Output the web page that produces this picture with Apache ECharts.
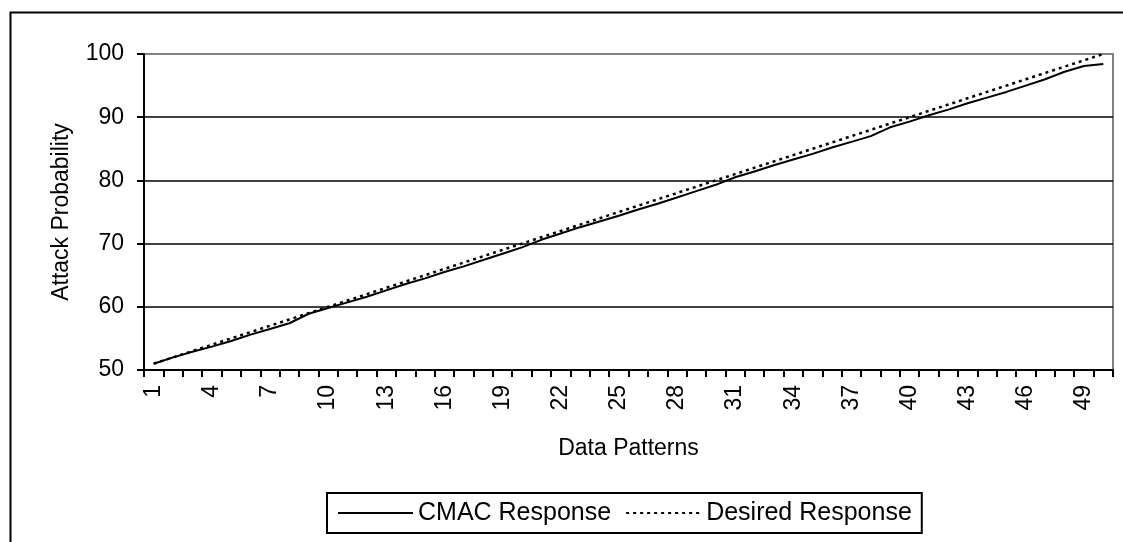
<!DOCTYPE html>
<html>
<head>
<meta charset="utf-8">
<script src="https://cdn.jsdelivr.net/npm/echarts@6/dist/echarts.min.js"></script>
<style>
html,body{margin:0;padding:0;background:#fff;}
#chart{width:1123px;height:542px;}
</style>
</head>
<body>
<div id="chart"></div>
<script>
const categories = ['1','2','3','4','5','6','7','8','9','10','11','12','13','14','15','16','17','18','19','20','21','22','23','24','25','26','27','28','29','30','31','32','33','34','35','36','37','38','39','40','41','42','43','44','45','46','47','48','49','50'];
const cmacResponse = [51.0,52.0,52.9,53.7,54.6,55.6,56.5,57.4,58.9,59.8,60.7,61.6,62.6,63.6,64.5,65.5,66.4,67.4,68.4,69.4,70.6,71.6,72.6,73.5,74.4,75.4,76.3,77.3,78.3,79.3,80.5,81.4,82.4,83.3,84.2,85.2,86.1,87.0,88.4,89.3,90.3,91.2,92.2,93.1,94.0,95.0,96.0,97.2,98.1,98.4];
const desiredResponse = [51,52,53,54,55,56,57,58,59,60,61,62,63,64,65,66,67,68,69,70,71,72,73,74,75,76,77,78,79,80,81,82,83,84,85,86,87,88,89,90,91,92,93,94,95,96,97,98,99,100];
const seriesNames = ['CMAC Response','Desired Response'];
const yTicks = {min:50, max:100, interval:10};

const FONT = 'Liberation Sans, Arial, sans-serif';
const FS = 23;
const chart = echarts.init(document.getElementById('chart'), null, {renderer:'canvas'});
chart.setOption({
  animation:false,
  backgroundColor:'#fff',
  graphic:[{
    type:'rect', left:8, top:10, shape:{x:0,y:0,width:1130,height:550},
    style:{fill:'none', stroke:'#000', lineWidth:2}, silent:true
  }],
  grid:{left:144, right:10, top:54, bottom:172, show:true, borderColor:'#808080', borderWidth:2, backgroundColor:'transparent'},
  legend:{
    left:327, top:493,
    data:seriesNames,
    itemWidth:75, itemHeight:10, itemGap:14,
    itemStyle:{opacity:0},
    borderColor:'#000', borderWidth:2, padding:[6,10,6,10],
    textStyle:{fontFamily:FONT, fontSize:25, lineHeight:28, color:'#000'}
  },
  xAxis:{
    type:'category', data:categories, boundaryGap:true,
    name:'Data Patterns', nameLocation:'middle', nameGap:67,
    nameTextStyle:{fontFamily:FONT, fontSize:FS, color:'#000', verticalAlign:'top'},
    axisLine:{lineStyle:{color:'#000', width:2}},
    axisTick:{show:true, interval:0, length:7, inside:false, lineStyle:{color:'#000', width:2}},
    axisLabel:{interval:2, rotate:90, margin:15, fontFamily:FONT, fontSize:FS, color:'#000'},
    splitLine:{show:false}
  },
  yAxis:{
    type:'value', min:yTicks.min, max:yTicks.max, interval:yTicks.interval,
    name:'Attack Probability', nameLocation:'middle', nameGap:71, nameRotate:90,
    nameTextStyle:{fontFamily:FONT, fontSize:FS, color:'#000'},
    axisLine:{show:true, lineStyle:{color:'#000', width:2}},
    axisTick:{show:true, length:7, inside:false, lineStyle:{color:'#000', width:2}},
    axisLabel:{margin:20, fontFamily:FONT, fontSize:FS, color:'#000'},
    splitLine:{show:true, showMinLine:false, showMaxLine:false, lineStyle:{color:'#000', width:1.5}}
  },
  series:[
    {name:seriesNames[0], type:'line', data:cmacResponse, symbol:'none', smooth:false,
     lineStyle:{color:'#000', width:2, type:'solid'}, itemStyle:{color:'#000'}, z:3},
    {name:seriesNames[1], type:'line', data:desiredResponse, symbol:'none', smooth:false,
     lineStyle:{color:'#000', width:2.5, type:[3,4]}, itemStyle:{color:'#000'}, z:2}
  ]
});
</script>
</body>
</html>
